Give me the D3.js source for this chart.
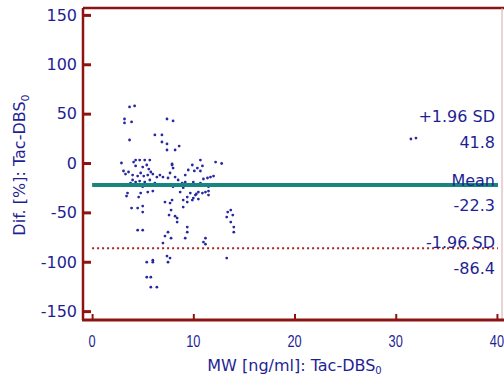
<!DOCTYPE html>
<html>
<head>
<meta charset="utf-8">
<script src="https://cdn.jsdelivr.net/npm/d3@7"></script>
<style>
  html, body { margin: 0; padding: 0; background: #ffffff; }
  svg { display: block; }
</style>
</head>
<body>
<svg id="chart" width="504" height="380"></svg>
<script>
// Bland-Altman plot: mean of the two methods (x) vs. relative difference (y)
const mwValues = [
  3.7, 4.2, 3.2, 3.2, 3.9, 7.4, 8.0, 3.7, 6.2, 6.9, 6.9, 7.4, 8.6, 7.4, 8.2,
  2.9, 4.3, 4.7, 5.2, 5.7, 7.9, 10.7, 12.2, 12.8,
  4.1, 4.3, 5.0, 5.4, 5.6, 5.8, 3.1, 3.3, 3.6,
  4.0, 4.5, 4.8, 5.1, 5.5, 6.0, 6.4, 6.7, 7.0,
  7.9, 8.0, 7.7, 8.2, 7.5,
  4.0, 4.3, 4.7, 5.2, 5.7, 6.2, 3.8, 4.1,
  8.5, 8.9, 9.2, 9.5, 9.9, 9.5, 9.2,
  10.4, 10.7, 10.9, 10.1, 11.0, 11.4, 11.7, 12.0, 10.0, 10.7,
  5.0, 6.5, 8.0, 9.0, 11.5,
  3.5, 3.4, 4.8, 5.5, 6.0, 4.6,
  8.7, 9.7, 9.4, 10.0, 10.3, 10.5, 10.9, 11.2, 11.5, 11.5,
  9.0, 9.9, 10.5, 10.2, 9.4, 7.9, 7.7, 7.2,
  7.8, 7.6, 8.2, 8.4, 8.4, 9.4, 9.0,
  3.9, 4.5, 5.0, 5.0,
  13.4, 13.7, 13.9, 13.3, 13.7, 14.0, 14.0,
  9.4, 9.2, 11.2, 11.0, 11.2, 4.5, 5.0,
  7.5, 7.2, 7.8, 7.0, 13.3,
  5.4, 6.0, 6.0, 7.4, 7.7, 7.5,
  5.4, 5.8, 5.8, 6.4,
  31.5, 32.0
];
const diffValues = [
  56.8, 57.8, 44.6, 40.6, 41.6, 44.6, 42.6, 23.3, 28.4, 28.4, 21.3, 19.3, 17.2, 13.2, 13.2,
  0.0, 3.0, 3.0, 3.0, 3.0, -1.0, 3.0, 1.0, -0.5,
  1.0, -3.0, -4.1, -2.0, -6.1, -9.1, -8.1, -11.2, -9.1,
  -12.2, -13.2, -10.1, -13.2, -12.2, -11.2, -14.2, -12.2, -14.2,
  -2.0, -5.1, -10.1, -14.2, -15.2,
  -17.2, -19.3, -18.3, -19.3, -17.2, -20.3, -20.3, -22.3,
  -17.2, -20.3, -19.3, -22.3, -2.0, -7.1, -12.2,
  -5.1, -8.1, -3.0, -8.0, -16.2, -15.2, -14.2, -13.2, -19.3, -20.3,
  -24.0, -23.0, -24.0, -25.0, -24.0,
  -30.4, -33.5, -30.4, -29.4, -28.4, -34.5,
  -29.4, -30.4, -34.5, -35.5, -31.4, -29.4, -30.4, -29.4, -28.4, -32.5,
  -37.5, -37.5, -36.5, -32.5, -39.6, -37.5, -40.6, -39.6,
  -47.7, -52.7, -53.8, -55.8, -59.8, -64.9, -44.6,
  -45.6, -45.6, -43.6, -49.7,
  -49.7, -47.7, -52.7, -54.8, -59.8, -64.9, -70.0,
  -70.0, -76.1, -76.1, -80.1, -82.2, -68.0, -68.0,
  -70.0, -74.0, -76.1, -81.1, -96.3,
  -100.4, -98.4, -100.4, -94.3, -96.3, -100.4,
  -115.6, -115.6, -125.8, -125.8,
  24.3, 25.3
];

const xTicks = [0, 10, 20, 30, 40];
const yTicks = [150, 100, 50, 0, -50, -100, -150];

// limits of agreement
const limitNames = ["+1.96 SD", "Mean", "-1.96 SD"];
const limitValues = [41.8, -22.3, -86.4];

const xTitle = "MW [ng/ml]: Tac-DBS";
const yTitle = "Dif. [%]: Tac-DBS";
const titleSub = "0";

const AXIS = "#8e1414";
const TEXT = "#1f1f94";
const DOT = "#2828a0";
const MEAN = "#17877d";
const LOWER = "#a82222";

const margin = { top: 8, right: 2, bottom: 60, left: 83 };
const W = 504, H = 380;
const innerW = W - margin.left - margin.right;
const innerH = H - margin.top - margin.bottom;

const svg = d3.select("#chart");
const g = svg.append("g").attr("transform", `translate(${margin.left},${margin.top})`);

const x = d3.scaleLinear().domain([-0.9, 40.5]).range([0, innerW]);
const y = d3.scaleLinear().domain([-159, 157]).range([innerH, 0]);

// frame: top and right edges
g.append("line").attr("x1", 0).attr("x2", innerW + 2).attr("y1", 0).attr("y2", 0)
  .attr("stroke", AXIS).attr("stroke-width", 2.5);
g.append("line").attr("x1", innerW).attr("x2", innerW).attr("y1", 0).attr("y2", innerH)
  .attr("stroke", "#d8a8a8").attr("stroke-width", 1);

// data points
g.append("g").selectAll("circle")
  .data(mwValues.map((v, i) => [v, diffValues[i]]))
  .join("circle")
  .attr("cx", d => x(d[0]))
  .attr("cy", d => y(d[1]))
  .attr("r", 1.4)
  .attr("fill", DOT);

// mean and lower limit lines
g.append("line")
  .attr("x1", x(0)).attr("x2", innerW - 4)
  .attr("y1", y(limitValues[1])).attr("y2", y(limitValues[1]))
  .attr("stroke", MEAN).attr("stroke-width", 4);
g.append("line")
  .attr("x1", x(0)).attr("x2", innerW - 4)
  .attr("y1", y(limitValues[2])).attr("y2", y(limitValues[2]))
  .attr("stroke", LOWER).attr("stroke-width", 2)
  .attr("stroke-dasharray", "2,3");

// limit labels on the right
const labelFont = "'DejaVu Sans', sans-serif";
limitNames.forEach((name, i) => {
  const ly = y(limitValues[i]);
  g.append("text")
    .attr("x", innerW - 7).attr("y", ly + (i === 1 ? 1 : 0))
    .attr("text-anchor", "end")
    .attr("font-family", labelFont).attr("font-size", 16)
    .attr("fill", TEXT).text(name);
  g.append("text")
    .attr("x", innerW - 7).attr("y", ly + 26)
    .attr("text-anchor", "end")
    .attr("font-family", labelFont).attr("font-size", 16)
    .attr("fill", TEXT).text(limitValues[i].toFixed(1));
});

// y axis: inward ticks
const yAxis = g.append("g")
  .call(d3.axisRight(y).tickValues(yTicks).tickSize(8).tickFormat(""));
yAxis.select(".domain").remove();
yAxis.selectAll(".tick line").attr("stroke", AXIS).attr("stroke-width", 3);
g.append("g").selectAll("text")
  .data(yTicks).join("text")
  .attr("x", -6).attr("y", d => y(d)).attr("dy", "0.36em")
  .attr("text-anchor", "end")
  .attr("font-family", labelFont).attr("font-size", 16)
  .attr("fill", TEXT).text(d => d);
g.append("line").attr("x1", 0).attr("x2", 0).attr("y1", 0).attr("y2", innerH)
  .attr("stroke", AXIS).attr("stroke-width", 2.5);

// x axis: upward ticks
const xAxis = g.append("g").attr("transform", `translate(0,${innerH})`)
  .call(d3.axisTop(x).tickValues(xTicks).tickSize(6).tickFormat(""));
xAxis.select(".domain").remove();
xAxis.selectAll(".tick line").attr("stroke", AXIS).attr("stroke-width", 2);
g.append("g").selectAll("g")
  .data(xTicks).join("g")
  .attr("transform", d => `translate(${x(d)},${innerH + 27}) scale(0.8,1)`)
  .append("text")
  .attr("text-anchor", "middle")
  .attr("font-family", "'Liberation Sans', Arial, sans-serif").attr("font-size", 16)
  .attr("fill", TEXT).text(d => d);
g.append("line").attr("x1", -1).attr("x2", innerW + 2).attr("y1", innerH).attr("y2", innerH)
  .attr("stroke", AXIS).attr("stroke-width", 3);

// axis titles
const xt = g.append("text")
  .attr("x", x(20)).attr("y", innerH + 51)
  .attr("text-anchor", "middle")
  .attr("font-family", labelFont).attr("font-size", 16)
  .attr("fill", TEXT);
xt.append("tspan").text(xTitle);
xt.append("tspan").attr("font-size", 10).attr("dy", 3).text(titleSub);

const yt = svg.append("text")
  .attr("transform", `translate(25,${margin.top + y(0) + 2}) rotate(-90)`)
  .attr("text-anchor", "middle")
  .attr("font-family", labelFont).attr("font-size", 16)
  .attr("fill", TEXT);
yt.append("tspan").text(yTitle);
yt.append("tspan").attr("font-size", 11).attr("dy", 4).text(titleSub);
</script>
</body>
</html>
